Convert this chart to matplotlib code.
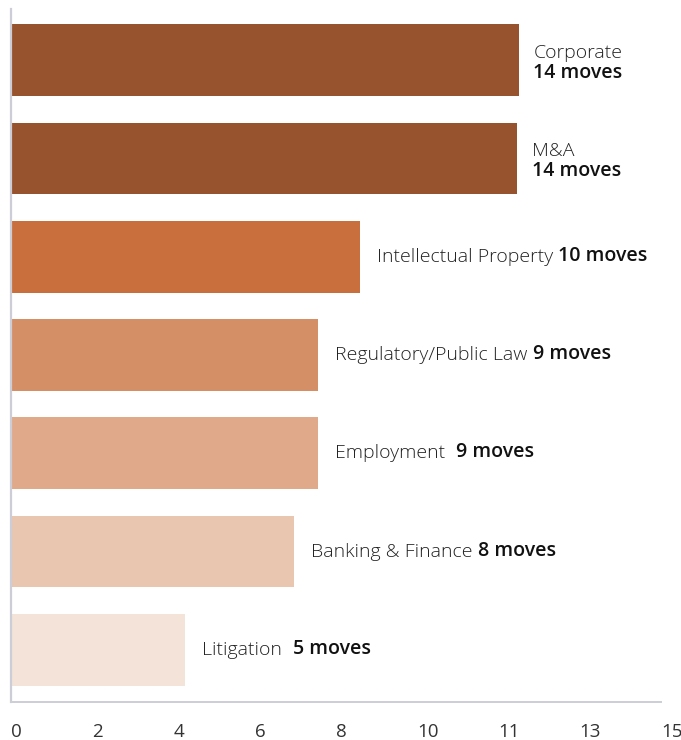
import matplotlib

matplotlib.use("Agg")

import matplotlib.pyplot as plt

# practice areas, top to bottom
areas = ["Corporate", "M&A", "Intellectual Property", "Regulatory/Public Law",
         "Employment", "Banking & Finance", "Litigation"]
moves = [14, 14, 10, 9, 9, 8, 5]
# drawn bar lengths (they do not match the move counts)
bar_len = [11.72, 11.68, 8.05, 7.09, 7.09, 6.53, 4.02]
colors = ["#96532D", "#96532D", "#C96F3E", "#D48F66", "#DFA98A", "#E9C6AF", "#F4E3D9"]
tick_labels = ["0", "2", "4", "6", "8", "10", "11", "13", "15"]

two_line = {"Corporate", "M&A"}
wide_gap = {"Employment", "Litigation"}

plt.rcParams["font.family"] = ["Open Sans", "DejaVu Sans"]

fig = plt.figure(figsize=(6.81, 7.40), dpi=100)
ax = fig.add_axes([11 / 681, 38 / 740, 650 / 681, 693 / 740])

ypos = list(range(len(areas)))
ax.barh(ypos, bar_len, height=0.73, color=colors)

ax.set_xlim(0, 15)
ax.set_ylim(6.53, -0.52)
ax.set_yticks([])
ticks = [15 * i / 8 for i in range(9)]
ax.set_xticks(ticks)
ax.set_xticklabels(tick_labels, ha="left", fontsize=13.5, color="#333333")
ax.tick_params(axis="x", length=0, pad=15)

for side in ["top", "right"]:
    ax.spines[side].set_visible(False)
ax.spines["left"].set_color("#CDCDD8")
ax.spines["left"].set_linewidth(1.6)
ax.spines["bottom"].set_color("#CDCDD8")
ax.spines["bottom"].set_linewidth(1.4)

fs = 14
for y, name, n, L in zip(ypos, areas, moves, bar_len):
    label = f"{n} moves"
    if name in two_line:
        t = ax.annotate(name, xy=(L, y), xytext=(10.5, -1), textcoords="offset points",
                        ha="left", va="bottom", fontsize=fs, fontweight="light",
                        color="#222222")
        ax.annotate(label, xy=(0, 0), xycoords=t, xytext=(0, -1), textcoords="offset points",
                    ha="left", va="top", fontsize=fs, fontweight="semibold",
                    color="#111111")
    else:
        t = ax.annotate(name, xy=(L, y), xytext=(12, 0), textcoords="offset points",
                        ha="left", va="center", fontsize=fs, fontweight="light",
                        color="#222222")
        gap = 8 if name in wide_gap else 4
        ax.annotate(label, xy=(1, 0), xycoords=t, xytext=(gap, 0), textcoords="offset points",
                    ha="left", va="bottom", fontsize=fs, fontweight="semibold",
                    color="#111111")

fig.savefig("out.png", dpi=100)
